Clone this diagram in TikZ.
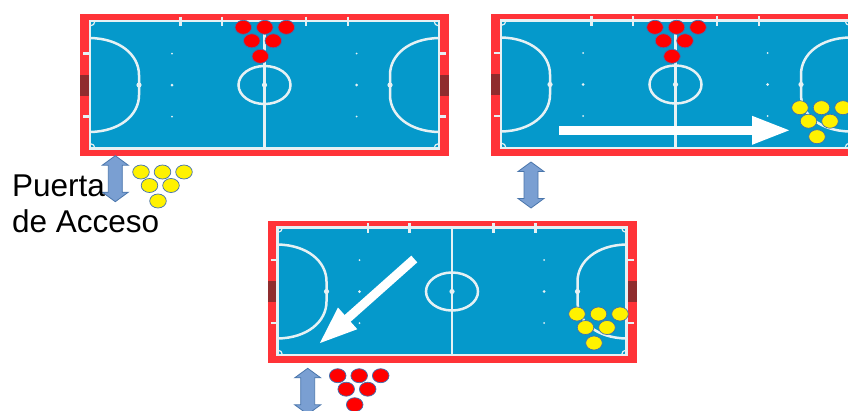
\documentclass[tikz,border=0pt]{standalone}
\usepackage{fontspec}
\setmainfont{Liberation Sans}
\usetikzlibrary{arrows.meta}
\definecolor{courtred}{HTML}{FF3338}
\definecolor{courtblue}{HTML}{0599CB}
\definecolor{goalred}{HTML}{8F2C2E}
\definecolor{courtline}{HTML}{E6F1F4}
\definecolor{dblfill}{HTML}{7A9FD2}
\definecolor{dbldraw}{HTML}{4A76AC}
\definecolor{playerline}{HTML}{3F6FB0}
\tikzset{
  x=1pt,y=-1pt,
  courtline/.style={draw=courtline,line width=2.5pt},
  tick/.style={draw=courtline,line width=2.4pt},
  mark dot/.style={fill=courtline,draw=none},
  bigarrow/.style={draw=white,line width=9pt,-{Triangle[length=39pt,width=26pt]}},
  dblarrow/.style={fill=dblfill,draw=dbldraw,line width=0.8pt},
  player/.style={line width=0.7pt,draw=playerline},
  court/.pic={
    \fill[courtred] (0,0) rectangle (369,142.3);
    \fill[courtblue] (10,7) rectangle (359,134.5);
    \fill[goalred] (0,60.5) rectangle (11,81.5);
    \fill[goalred] (358,60.5) rectangle (369,81.5);
    \foreach \tx in {100.5,142,226,268} \draw[tick] (\tx,2.5) -- (\tx,12);
    \foreach \ty in {39.5,102.5} {
      \draw[tick] (3,\ty) -- (10,\ty);
      \draw[tick] (359,\ty) -- (366,\ty);
    }
    \draw[courtline] (10,7) rectangle (359,134.5);
    \draw[courtline] (184.5,7) -- (184.5,134.5);
    \draw[courtline] (184.5,71) ellipse [x radius=26pt,y radius=19pt];
    \draw[courtline] (10,24) .. controls (40,24.5) and (59,41) .. (59,61) -- (59,81) .. controls (59,101) and (40,117.5) .. (10,118);
    \draw[courtline] (359,24) .. controls (329,24.5) and (310,41) .. (310,61) -- (310,81) .. controls (310,101) and (329,117.5) .. (359,118);
    \draw[courtline,line width=1.2pt] (10,12) arc [start angle=-90,end angle=0,radius=5pt]
      (354,7) arc [start angle=180,end angle=270,radius=5pt]
      (15,134.5) arc [start angle=0,end angle=90,radius=5pt]
      (359,129.5) arc [start angle=90,end angle=180,radius=5pt];
    \foreach \px in {92,276.5} {
      \fill[mark dot] (\px,39.5) circle (1pt);
      \fill[mark dot] (\px,71) circle (1.5pt);
      \fill[mark dot] (\px,102.5) circle (1pt);
    }
    \fill[mark dot] (59,71) circle (2.6pt);
    \fill[mark dot] (310,71) circle (2.6pt);
    \fill[mark dot] (184.5,71) circle (2.6pt);
  },
  team/.pic={
    \foreach \qx/\qy in {0/0,21.5/0,43/0,8.5/13.5,30/13.5,17/29}
      \path[player,fill=#1] (\qx,\qy) ellipse [x radius=8.3pt,y radius=7pt];
  },
  updown/.pic={
    \path[dblarrow] (13,0) -- (26,9.5) -- (20,9.5) -- (20,36.5) -- (26,36.5) -- (13,46)
      -- (0,36.5) -- (6,36.5) -- (6,9.5) -- (0,9.5) -- cycle;
  }
}
\begin{document}
\begin{tikzpicture}
\path[use as bounding box,clip] (0,0) rectangle (848,410);
\fill[white] (0,0) rectangle (848,410);
\pic at (80,14) {court};
\pic at (491,13.5) {court};
\pic at (267.5,220.5) {court};
\pic at (102.3,155.7) {updown};
\pic at (518,162) {updown};
\pic at (294.7,368.3) {updown};
\pic at (243.3,27.3) {team=red};
\pic at (655,27.3) {team=red};
\pic at (337.7,375.7) {team=red};
\pic at (141,172) {team=yellow};
\pic at (800,107.7) {team=yellow};
\pic at (577,314) {team=yellow};
\coordinate (runAstart) at (559,130.3);
\coordinate (runAend) at (791,130.3);
\coordinate (runBstart) at (414.3,259);
\coordinate (runBend) at (318.5,344.3);
\draw[bigarrow] (runAstart) -- (runAend);
\draw[bigarrow] (runBstart) -- (runBend);
\node[anchor=base west,inner sep=0pt,font=\fontsize{31.5pt}{36pt}\selectfont] (puerta) at (12,196.5) {Puerta};
\node[anchor=base west,inner sep=0pt,font=\fontsize{31.5pt}{36pt}\selectfont] (acceso) at (12,232.5) {de Acceso};
\end{tikzpicture}
\end{document}
